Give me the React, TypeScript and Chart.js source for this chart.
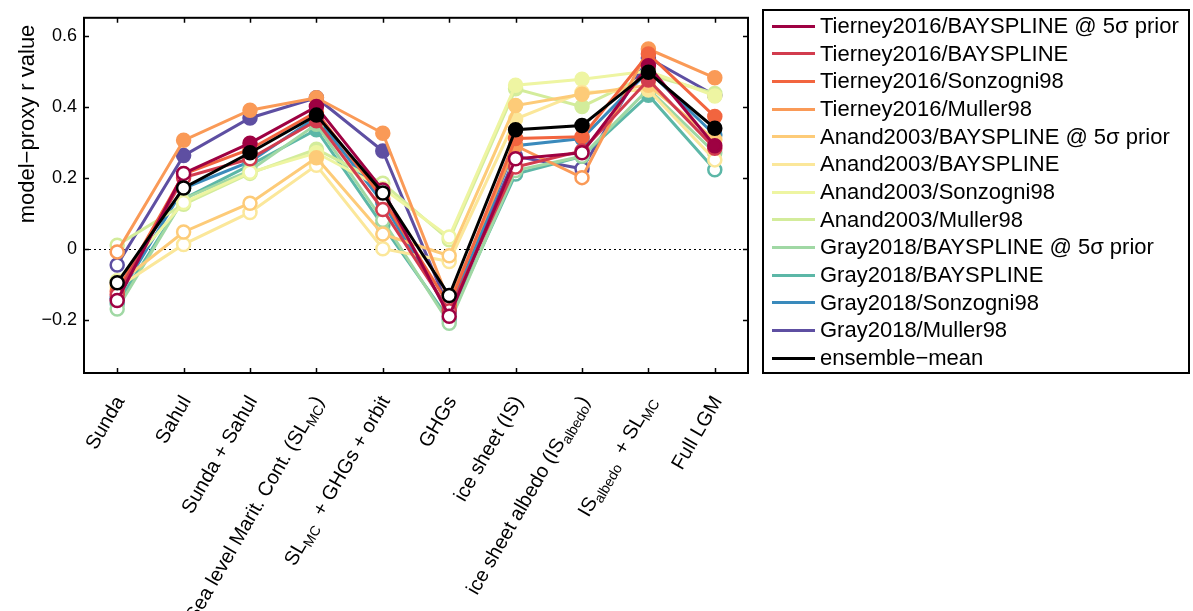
import React, { useEffect, useRef } from "react";
import { Chart, registerables } from "chart.js";

Chart.register(...registerables);

const FONT = "'Liberation Sans', Arial, Helvetica, sans-serif";

const categories = [
  "Sunda",
  "Sahul",
  "Sunda + Sahul",
  "Sea level Marit. Cont. (SL_{MC})",
  "SL_{MC}  + GHGs + orbit",
  "GHGs",
  "ice sheet (IS)",
  "ice sheet albedo (IS_{albedo})",
  "IS_{albedo}  + SL_{MC}",
  "Full LGM",
];

const yTickValues = [-0.2, 0, 0.2, 0.4, 0.6];
const yTitle = "model\u2212proxy r value";

const seriesNames = [
  "Tierney2016/BAYSPLINE @ 5\u03c3 prior",
  "Tierney2016/BAYSPLINE",
  "Tierney2016/Sonzogni98",
  "Tierney2016/Muller98",
  "Anand2003/BAYSPLINE @ 5\u03c3 prior",
  "Anand2003/BAYSPLINE",
  "Anand2003/Sonzogni98",
  "Anand2003/Muller98",
  "Gray2018/BAYSPLINE @ 5\u03c3 prior",
  "Gray2018/BAYSPLINE",
  "Gray2018/Sonzogni98",
  "Gray2018/Muller98",
  "ensemble\u2212mean",
];

const seriesColors = [
  "#9e0142",
  "#d23c4e",
  "#f2653f",
  "#fa9a57",
  "#fdcb78",
  "#fbe79a",
  "#eef5a2",
  "#d3ec9b",
  "#a0d8a4",
  "#5cb7a7",
  "#3a8abc",
  "#5e4fa2",
  "#000000",
];

// values per category
const tierneyBayspline5 = [-0.146, 0.212, 0.297, 0.400, 0.165, -0.190, 0.253, 0.270, 0.515, 0.290];
const tierneyBayspline = [-0.130, 0.200, 0.253, 0.360, 0.110, -0.175, 0.230, 0.275, 0.475, 0.283];
const tierneySonzogni = [-0.120, 0.210, 0.280, 0.385, 0.140, -0.160, 0.310, 0.315, 0.548, 0.372];
const tierneyMuller = [-0.009, 0.305, 0.390, 0.425, 0.325, -0.150, 0.290, 0.200, 0.562, 0.481];
const anandBayspline5 = [-0.100, 0.047, 0.128, 0.256, 0.041, -0.020, 0.403, 0.435, 0.460, 0.307];
const anandBayspline = [-0.110, 0.012, 0.102, 0.235, 0.000, -0.036, 0.365, 0.440, 0.447, 0.250];
const anandSonzogni = [-0.090, 0.130, 0.215, 0.270, 0.170, 0.033, 0.460, 0.477, 0.500, 0.430];
const anandMuller = [0.010, 0.125, 0.212, 0.280, 0.184, 0.025, 0.450, 0.400, 0.490, 0.437];
const grayBayspline5 = [-0.170, 0.140, 0.220, 0.350, 0.080, -0.210, 0.220, 0.260, 0.450, 0.270];
const grayBayspline = [-0.155, 0.140, 0.235, 0.335, 0.065, -0.200, 0.210, 0.260, 0.432, 0.222];
const graySonzogni = [-0.140, 0.170, 0.245, 0.370, 0.130, -0.180, 0.290, 0.310, 0.500, 0.320];
const grayMuller = [-0.046, 0.262, 0.368, 0.425, 0.275, -0.170, 0.260, 0.225, 0.537, 0.432];
const ensembleMean = [-0.096, 0.171, 0.270, 0.376, 0.157, -0.132, 0.335, 0.347, 0.497, 0.339];

// 1 = filled marker, 0 = open marker
const tierneyBayspline5Filled = [0, 0, 1, 1, 0, 0, 0, 0, 1, 1];
const tierneyBaysplineFilled = [0, 0, 0, 1, 0, 0, 0, 0, 1, 1];
const tierneySonzogniFilled = [0, 0, 1, 1, 0, 0, 1, 1, 1, 1];
const tierneyMullerFilled = [0, 1, 1, 1, 1, 0, 1, 0, 1, 1];
const anandBayspline5Filled = [0, 0, 0, 1, 0, 0, 1, 1, 1, 1];
const anandBaysplineFilled = [0, 0, 0, 0, 0, 0, 1, 1, 1, 0];
const anandSonzogniFilled = [0, 0, 0, 1, 0, 0, 1, 1, 1, 1];
const anandMullerFilled = [0, 0, 0, 1, 0, 0, 1, 1, 1, 1];
const grayBayspline5Filled = [0, 0, 0, 1, 0, 0, 0, 0, 1, 1];
const grayBaysplineFilled = [0, 0, 0, 1, 0, 0, 0, 0, 1, 0];
const graySonzogniFilled = [0, 0, 0, 1, 0, 0, 1, 1, 1, 1];
const grayMullerFilled = [0, 1, 1, 1, 1, 0, 0, 0, 1, 0];
const ensembleMeanFilled = [0, 0, 1, 1, 0, 0, 1, 1, 1, 1];

const seriesValues = [
  tierneyBayspline5, tierneyBayspline, tierneySonzogni, tierneyMuller,
  anandBayspline5, anandBayspline, anandSonzogni, anandMuller,
  grayBayspline5, grayBayspline, graySonzogni, grayMuller, ensembleMean,
];
const seriesFilled = [
  tierneyBayspline5Filled, tierneyBaysplineFilled, tierneySonzogniFilled, tierneyMullerFilled,
  anandBayspline5Filled, anandBaysplineFilled, anandSonzogniFilled, anandMullerFilled,
  grayBayspline5Filled, grayBaysplineFilled, graySonzogniFilled, grayMullerFilled, ensembleMeanFilled,
];

function parseSegments(label: string) {
  const segs: { t: string; sub: boolean }[] = [];
  const re = /_\{([^}]*)\}/g;
  let last = 0;
  let m: RegExpExecArray | null;
  while ((m = re.exec(label))) {
    if (m.index > last) segs.push({ t: label.slice(last, m.index), sub: false });
    segs.push({ t: m[1], sub: true });
    last = m.index + m[0].length;
  }
  if (last < label.length) segs.push({ t: label.slice(last), sub: false });
  return segs;
}

const framePlugin = {
  id: "matlabFrame",
  beforeDatasetsDraw(chart: any) {
    const { ctx, chartArea, scales } = chart;
    const y0 = Math.round(scales.y.getPixelForValue(0)) + 0.5;
    ctx.save();
    ctx.setLineDash([2, 3]);
    ctx.strokeStyle = "#000";
    ctx.lineWidth = 1;
    ctx.beginPath();
    ctx.moveTo(chartArea.left, y0);
    ctx.lineTo(chartArea.right, y0);
    ctx.stroke();
    ctx.restore();
  },
  afterDraw(chart: any) {
    const { ctx, chartArea, scales } = chart;
    const { left, right, top, bottom } = chartArea;
    ctx.save();
    ctx.strokeStyle = "#000";
    ctx.lineWidth = 1.5;
    const tl = 5;
    ctx.beginPath();
    yTickValues.forEach((v) => {
      const py = Math.round(scales.y.getPixelForValue(v)) + 0.5;
      ctx.moveTo(left, py);
      ctx.lineTo(left + tl, py);
      ctx.moveTo(right, py);
      ctx.lineTo(right - tl, py);
    });
    categories.forEach((_, i) => {
      const px = Math.round(scales.x.getPixelForValue(i)) + 0.5;
      ctx.moveTo(px, bottom);
      ctx.lineTo(px, bottom - tl);
      ctx.moveTo(px, top);
      ctx.lineTo(px, top + tl);
    });
    ctx.stroke();
    ctx.lineWidth = 2;
    ctx.strokeRect(left, top, right - left, bottom - top);

    // x labels (rotated, with subscripts)
    ctx.fillStyle = "#000";
    const mainFont = `20px ${FONT}`;
    const subFont = `14px ${FONT}`;
    categories.forEach((label, i) => {
      const px = scales.x.getPixelForValue(i);
      const segs = parseSegments(label);
      let total = 0;
      const widths = segs.map((s) => {
        ctx.font = s.sub ? subFont : mainFont;
        const w = ctx.measureText(s.t).width;
        total += w;
        return w;
      });
      ctx.save();
      ctx.translate(px + 3, bottom + 25);
      ctx.rotate(-Math.PI / 3);
      ctx.textAlign = "left";
      ctx.textBaseline = "middle";
      let cx = -total;
      segs.forEach((s, k) => {
        ctx.font = s.sub ? subFont : mainFont;
        ctx.fillText(s.t, cx, s.sub ? 6 : 0);
        cx += widths[k];
      });
      ctx.restore();
    });

    // y title
    ctx.save();
    ctx.translate(28, 124);
    ctx.rotate(-Math.PI / 2);
    ctx.textAlign = "center";
    ctx.textBaseline = "middle";
    ctx.font = `22px ${FONT}`;
    ctx.fillText(yTitle, 0, 0);
    ctx.restore();
    ctx.restore();
  },
};

export default function App() {
  const canvasRef = useRef<HTMLCanvasElement>(null);

  useEffect(() => {
    const order = [12, 0, 1, 2, 3, 4, 5, 6, 7, 8, 9, 10, 11];
    const datasets = order.map((s) => ({
      label: seriesNames[s],
      data: seriesValues[s],
      borderColor: seriesColors[s],
      backgroundColor: seriesColors[s],
      borderWidth: 3,
      pointRadius: 6.5,
      pointHoverRadius: 6.5,
      pointBorderWidth: 2.5,
      pointBorderColor: seriesColors[s],
      pointBackgroundColor: seriesFilled[s].map((f) => (f ? seriesColors[s] : "#ffffff")),
      tension: 0,
      clip: false as any,
    }));

    const chart = new Chart(canvasRef.current!, {
      type: "line",
      data: { labels: categories, datasets },
      options: {
        animation: false,
        responsive: false,
        devicePixelRatio: 1,
        events: [],
        layout: { padding: { left: 0, right: 445, top: 9, bottom: 0 } },
        plugins: {
          legend: { display: false },
          tooltip: { enabled: false },
          title: { display: false },
        },
        scales: {
          x: {
            type: "category",
            offset: true,
            grid: { display: false, drawTicks: false },
            border: { display: false },
            ticks: { display: false },
            afterFit: (scale: any) => {
              scale.height = 611 - 373;
            },
          },
          y: {
            type: "linear",
            min: -0.35,
            max: 0.65,
            grid: { display: false, drawTicks: false },
            border: { display: false },
            afterBuildTicks: (scale: any) => {
              scale.ticks = yTickValues.map((v) => ({ value: v }));
            },
            afterFit: (scale: any) => {
              scale.width = 84;
            },
            ticks: {
              padding: 7,
              color: "#000",
              font: { family: FONT, size: 18 },
              callback: (v: any) =>
                Number(v) === 0 ? "0" : Number(v).toFixed(1).replace("-", "\u2212"),
            },
          },
        },
      },
      plugins: [framePlugin],
    });
    return () => chart.destroy();
  }, []);

  const rowStart = 26;
  const rowStep = 27.67;

  return (
    <div
      style={{
        position: "absolute",
        left: 0,
        top: 0,
        width: 1193,
        height: 611,
        background: "#fff",
        overflow: "hidden",
      }}
    >
      <canvas
        ref={canvasRef}
        width={1193}
        height={611}
        style={{ position: "absolute", left: 0, top: 0, width: 1193, height: 611 }}
      />
      <div
        style={{
          position: "absolute",
          left: 762,
          top: 9,
          width: 428,
          height: 365,
          border: "2px solid #000",
          boxSizing: "border-box",
        }}
      />
      {seriesNames.map((name, i) => (
        <div
          key={name}
          style={{
            position: "absolute",
            left: 772,
            top: rowStart + i * rowStep - 13,
            height: 26,
            display: "flex",
            alignItems: "center",
            whiteSpace: "nowrap",
          }}
        >
          <span
            style={{
              display: "inline-block",
              width: 43,
              height: 3,
              background: seriesColors[i],
            }}
          />
          <span
            style={{
              marginLeft: 5,
              fontFamily: FONT,
              fontSize: 22,
              lineHeight: "26px",
              color: "#000",
            }}
          >
            {name}
          </span>
        </div>
      ))}
    </div>
  );
}
